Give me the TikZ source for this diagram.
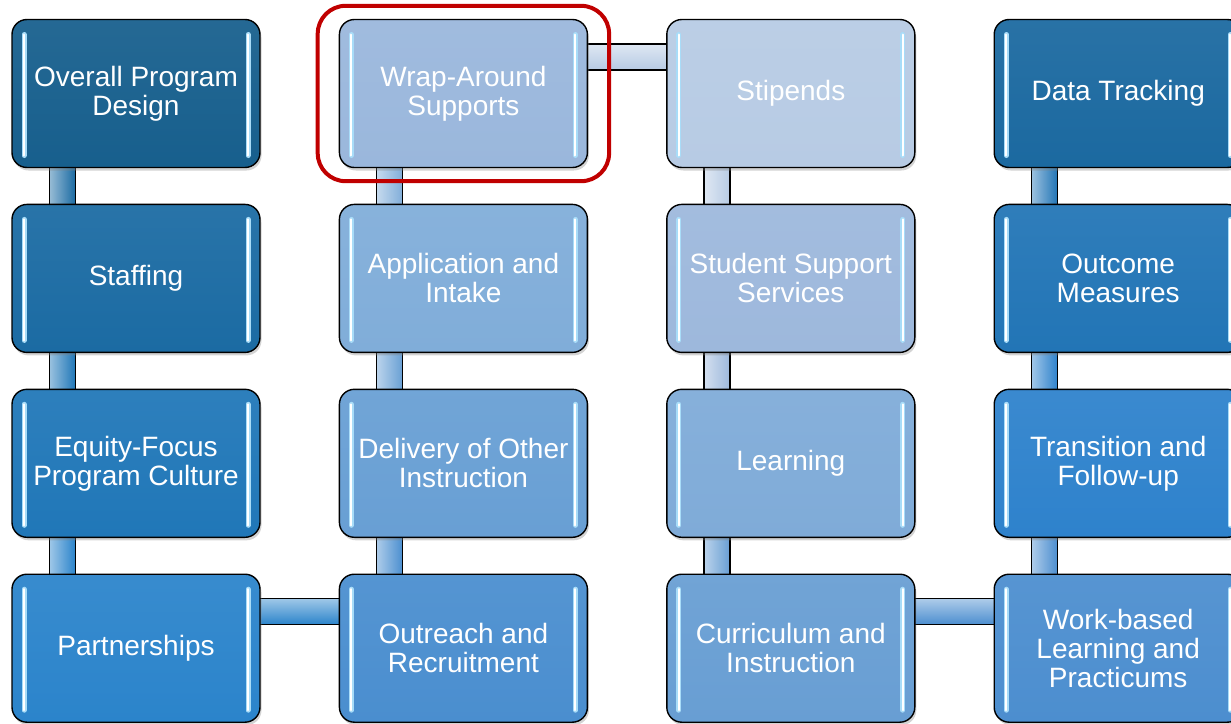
\documentclass[tikz,border=0pt]{standalone}
\usepackage{fontspec}
\setmainfont{Liberation Sans}
\usetikzlibrary{positioning,shadows,fit,backgrounds}

\definecolor{c1}{HTML}{175F8D}
\definecolor{c2}{HTML}{1B6BA3}
\definecolor{c3}{HTML}{2077B8}
\definecolor{c4}{HTML}{2B84CB}
\definecolor{c5}{HTML}{4A8ECF}
\definecolor{c6}{HTML}{689FD4}
\definecolor{c7}{HTML}{80ADD9}
\definecolor{c8}{HTML}{9AB7DC}
\definecolor{c9}{HTML}{B7CBE4}
\definecolor{c10}{HTML}{9DB8DC}
\definecolor{c11}{HTML}{7FABD8}
\definecolor{c12}{HTML}{689ED3}
\definecolor{c13}{HTML}{4C8ECF}
\definecolor{c14}{HTML}{2E82CC}
\definecolor{c15}{HTML}{2275B6}
\definecolor{c16}{HTML}{1B69A0}
\definecolor{glow}{HTML}{A8DCF8}
\definecolor{mark}{HTML}{C00000}

\begin{document}
\begin{tikzpicture}[node distance=35.5pt and 78pt,
  blk/.style={draw=black, line width=1.4pt, rounded corners=15pt,
    minimum width=248pt, minimum height=148pt, align=center, text=white,
    font=\fontsize{28}{29}\selectfont, top color=#1!94!white, bottom color=#1,
    drop shadow={opacity=0.35, shadow xshift=1.5pt, shadow yshift=-3pt},
    path picture={
      \foreach \s/\a in {12pt/west,-12pt/east} {
        \draw[glow, line width=5pt, line cap=round]
          ([xshift=\s,yshift=-15pt]path picture bounding box.north \a) --
          ([xshift=\s,yshift=12pt]path picture bounding box.south \a);
        \draw[white, line width=2pt, line cap=round]
          ([xshift=\s,yshift=-15pt]path picture bounding box.north \a) --
          ([xshift=\s,yshift=12pt]path picture bounding box.south \a);
      }}},
  vbar/.style={draw=black, line width=1.4pt, left color=#1!45!white, right color=#1},
  hbar/.style={draw=black, line width=1.4pt, top color=#1!45!white, bottom color=#1}]
  \useasboundingbox (0,0) rectangle (1231pt,-723pt);

  % the chain of program components
  \node[blk=c1] (design) at (136pt,-93.5pt) {Overall Program\\Design};
  \node[blk=c2] (staff) [below=of design] {Staffing};
  \node[blk=c3] (equity) [below=of staff] {Equity-Focus\\Program Culture};
  \node[blk=c4] (partner) [below=of equity] {Partnerships};
  \node[blk=c5] (outreach) [right=of partner] {Outreach and\\Recruitment};
  \node[blk=c6] (deliver) [above=of outreach] {Delivery of Other\\Instruction};
  \node[blk=c7] (intake) [above=of deliver] {Application and\\Intake};
  \node[blk=c8] (wrap) [above=of intake] {Wrap-Around\\Supports};
  \node[blk=c9] (stipend) [right=of wrap] {Stipends};
  \node[blk=c10] (support) [below=of stipend] {Student Support\\Services};
  \node[blk=c11] (learn) [below=of support] {Learning};
  \node[blk=c12] (curric) [below=of learn] {Curriculum and\\Instruction};
  \node[blk=c13] (work) [right=of curric] {Work-based\\Learning and\\Practicums};
  \node[blk=c14] (transit) [above=of work] {Transition and\\Follow-up};
  \node[blk=c15] (outcome) [above=of transit] {Outcome\\Measures};
  \node[blk=c16] (data) [above=of outcome] {Data Tracking};

  % highlighted component
  \node[draw=mark, line width=4pt, rounded corners=28pt, fit=(wrap),
    inner xsep=21pt, inner ysep=13pt] (focus) {};

  % links behind the boxes
  \begin{pgfonlayer}{background}
    \foreach \u/\l/\c in {design/staff/c2, staff/equity/c3, equity/partner/c4,
        wrap/intake/c7, intake/deliver/c6, deliver/outreach/c5,
        stipend/support/c9, support/learn/c10, learn/curric/c12,
        data/outcome/c15, outcome/transit/c14, transit/work/c13}
      \draw[vbar=\c] ([xshift=38pt,yshift=4pt]\u.south west) rectangle
        ([xshift=64pt,yshift=-4pt]\l.north west);
    \foreach \a/\b/\c in {partner/outreach/c4, wrap/stipend/c9, curric/work/c13}
      \draw[hbar=\c] ([xshift=-4pt,yshift=-25pt]\a.north east) rectangle
        ([xshift=4pt,yshift=-51pt]\b.north west);
  \end{pgfonlayer}
\end{tikzpicture}
\end{document}
